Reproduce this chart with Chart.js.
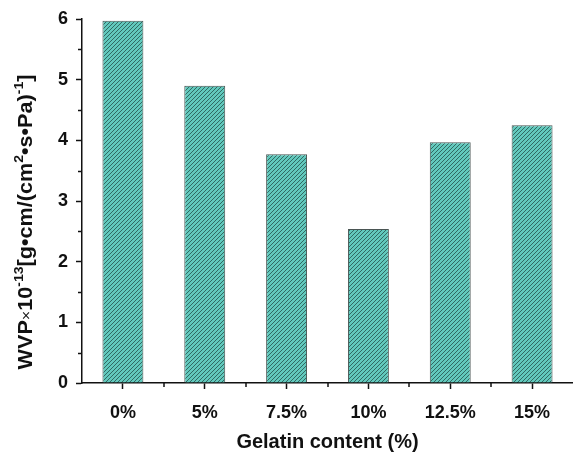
<!DOCTYPE html>
<html>
<head>
<meta charset="utf-8">
<script src="https://cdn.jsdelivr.net/npm/chart.js@4/dist/chart.umd.min.js"></script>
<style>
  html, body { margin: 0; padding: 0; background: #fff; }
  #wrap { width: 573px; height: 458px; }
</style>
</head>
<body>
<div id="wrap"><canvas id="c" width="573" height="458"></canvas></div>
<script>
// Water vapour permeability by gelatin content
const categories = ['0%', '5%', '7.5%', '10%', '12.5%', '15%'];
const wvpValues = [5.97, 4.90, 3.77, 2.54, 3.97, 4.25];
const yTicks = [0, 1, 2, 3, 4, 5, 6];

const FONT = '"Liberation Sans", Arial, sans-serif';

// diagonal hatch fill for the bars
function hatchPattern() {
  const s = 4;
  const t = document.createElement('canvas');
  t.width = s; t.height = s;
  const g = t.getContext('2d');
  g.fillStyle = '#62c9bd';
  g.fillRect(0, 0, s, s);
  g.strokeStyle = '#2a5f59';
  g.lineWidth = 0.9;
  g.beginPath();
  g.moveTo(-1, s + 1); g.lineTo(s + 1, -1);
  g.moveTo(-1, 1); g.lineTo(1, -1);
  g.moveTo(s - 1, s + 1); g.lineTo(s + 1, s - 1);
  g.stroke();
  return g.createPattern(t, 'repeat');
}

// minor ticks and the rotated y title with superscripts
const extras = {
  id: 'extras',
  afterDraw(chart) {
    const ctx = chart.ctx;
    const x = chart.scales.x, y = chart.scales.y;
    const area = chart.chartArea;
    ctx.save();
    ctx.strokeStyle = '#111';
    ctx.lineWidth = 1.5;
    ctx.beginPath();
    for (let v = 0.5; v < 6; v += 1) {
      const py = Math.round(y.getPixelForValue(v)) + 0.5;
      ctx.moveTo(area.left, py); ctx.lineTo(area.left - 4, py);
    }
    for (let i = 0; i < categories.length - 1; i++) {
      const px = Math.round((x.getPixelForValue(i) + x.getPixelForValue(i + 1)) / 2);
      ctx.moveTo(px, area.bottom); ctx.lineTo(px, area.bottom + 4);
    }
    ctx.stroke();

    // y title
    const parts = [
      ['WVP', 'b'], ['\u00d7', 'x'], ['10', 'b'], ['-13', 's'], ['[g\u2022cm/(cm', 'b'], ['2', 's'],
      ['\u2022s\u2022Pa)', 'b'], ['-1', 's'], [']', 'b']
    ];
    const fonts = { b: 'bold 20px ' + FONT, s: 'bold 13px ' + FONT, x: '15px ' + FONT };
    let total = 0;
    parts.forEach(p => { ctx.font = fonts[p[1]]; total += ctx.measureText(p[0]).width; });
    const stretch = 1.08;
    ctx.translate(32, 222);
    ctx.rotate(-Math.PI / 2);
    ctx.scale(stretch, 1);
    ctx.fillStyle = '#111';
    ctx.textBaseline = 'alphabetic';
    let cx = -total / 2;
    parts.forEach(p => {
      ctx.font = fonts[p[1]];
      ctx.fillText(p[0], cx, p[1] === 's' ? -9 : (p[1] === 'x' ? -1 : 0));
      cx += ctx.measureText(p[0]).width;
    });
    ctx.restore();
  }
};

new Chart(document.getElementById('c'), {
  type: 'bar',
  data: {
    labels: categories,
    datasets: [{
      data: wvpValues,
      backgroundColor: hatchPattern(),
      borderColor: '#4a5553',
      borderWidth: 1,
      barPercentage: 0.5,
      categoryPercentage: 1.0
    }]
  },
  options: {
    responsive: false,
    animation: false,
    layout: { padding: { top: 19, right: 0, left: 0, bottom: 0 } },
    plugins: { legend: { display: false }, tooltip: { enabled: false } },
    scales: {
      x: {
        offset: true,
        grid: { display: true, offset: false, drawOnChartArea: false, drawTicks: true, tickLength: 6, tickWidth: 1.5, tickColor: '#111' },
        border: { display: true, color: '#111', width: 1.5 },
        ticks: { color: '#111', font: { family: FONT, size: 18, weight: 'bold' }, padding: 13, maxRotation: 0 },
        title: { display: true, text: 'Gelatin content (%)', color: '#111', font: { family: FONT, size: 20, weight: 'bold' }, padding: { top: 6, bottom: 4 } },
        afterFit(s) { s.height = 75; }
      },
      y: {
        min: 0, max: 6,
        afterBuildTicks(s) { s.ticks = yTicks.map(v => ({ value: v })); },
        grid: { display: true, drawOnChartArea: false, drawTicks: true, tickLength: 6, tickWidth: 1.5, tickColor: '#111' },
        border: { display: true, color: '#111', width: 1.5 },
        ticks: { color: '#111', font: { family: FONT, size: 18, weight: 'bold' }, padding: 8 },
        afterFit(s) { s.width = 82; }
      }
    }
  },
  plugins: [extras]
});
</script>
</body>
</html>
